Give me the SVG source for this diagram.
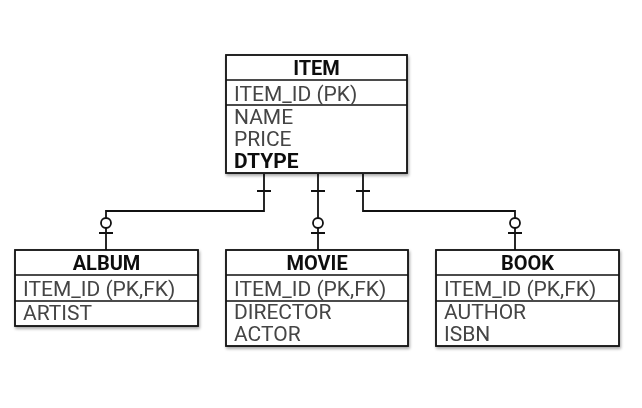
<svg xmlns="http://www.w3.org/2000/svg" width="642" height="408" viewBox="0 0 642 408">
<defs>
<filter id="sh" x="-10%" y="-10%" width="125%" height="130%">
<feGaussianBlur in="SourceAlpha" stdDeviation="1.5"/>
<feOffset dx="1" dy="2" result="b"/>
<feComponentTransfer><feFuncA type="linear" slope="0.35"/></feComponentTransfer>
<feMerge><feMergeNode/><feMergeNode in="SourceGraphic"/></feMerge>
</filter>
<style>
.box{fill:#fff;stroke:#111;stroke-width:1.8}
.sep{stroke:#111;stroke-width:1.5}
.t{font-family:Roboto,"Liberation Sans",Arial,sans-serif;font-size:20px;font-weight:bold;fill:#111;text-anchor:middle}
.f{font-family:Roboto,"Liberation Sans",Arial,sans-serif;font-size:21px;fill:#444}
.fb{font-family:Roboto,"Liberation Sans",Arial,sans-serif;font-size:21px;fill:#111;font-weight:bold}
.c{fill:none;stroke:#111;stroke-width:1.8}
.o{fill:#fff;stroke:#111;stroke-width:1.8}
</style>
</defs>
<rect width="642" height="408" fill="#fff"/>
<g id="connectors">
<path class="c" d="M264 174 V211 H106 V250"/>
<path class="c" d="M318 174 V250"/>
<path class="c" d="M363 174 V211 H515 V250"/>
<path class="c" d="M257 191 H271 M311 191 H325 M356 191 H370"/>
<path class="c" d="M99 233 H113 M311 233 H325 M508 233 H522"/>
<circle class="o" cx="106" cy="223" r="5"/>
<circle class="o" cx="318" cy="223" r="5"/>
<circle class="o" cx="515" cy="223" r="5"/>
</g>
<g id="item" filter="url(#sh)">
<rect class="box" x="226" y="55" width="181" height="118"/>
<line class="sep" x1="226" y1="80" x2="407" y2="80"/>
<line class="sep" x1="226" y1="105" x2="407" y2="105"/>
<text class="t" x="316.5" y="75">ITEM</text>
<text class="f" x="234" y="101">ITEM_ID (PK)</text>
<text class="f" x="234" y="124">NAME</text>
<text class="f" x="234" y="146">PRICE</text>
<text class="fb" x="234" y="168">DTYPE</text>
</g>
<g id="album" filter="url(#sh)">
<rect class="box" x="15" y="250" width="183" height="76"/>
<line class="sep" x1="15" y1="275" x2="198" y2="275"/>
<line class="sep" x1="15" y1="301" x2="198" y2="301"/>
<text class="t" x="106.5" y="270">ALBUM</text>
<text class="f" x="23" y="296">ITEM_ID (PK,FK)</text>
<text class="f" x="23" y="320">ARTIST</text>
</g>
<g id="movie" filter="url(#sh)">
<rect class="box" x="226" y="250" width="182" height="96"/>
<line class="sep" x1="226" y1="275" x2="408" y2="275"/>
<line class="sep" x1="226" y1="301" x2="408" y2="301"/>
<text class="t" x="317" y="270">MOVIE</text>
<text class="f" x="234" y="296">ITEM_ID (PK,FK)</text>
<text class="f" x="234" y="319">DIRECTOR</text>
<text class="f" x="234" y="341">ACTOR</text>
</g>
<g id="book" filter="url(#sh)">
<rect class="box" x="436" y="250" width="183" height="96"/>
<line class="sep" x1="436" y1="275" x2="619" y2="275"/>
<line class="sep" x1="436" y1="301" x2="619" y2="301"/>
<text class="t" x="527.5" y="270">BOOK</text>
<text class="f" x="444" y="296">ITEM_ID (PK,FK)</text>
<text class="f" x="444" y="319">AUTHOR</text>
<text class="f" x="444" y="341">ISBN</text>
</g>
</svg>
